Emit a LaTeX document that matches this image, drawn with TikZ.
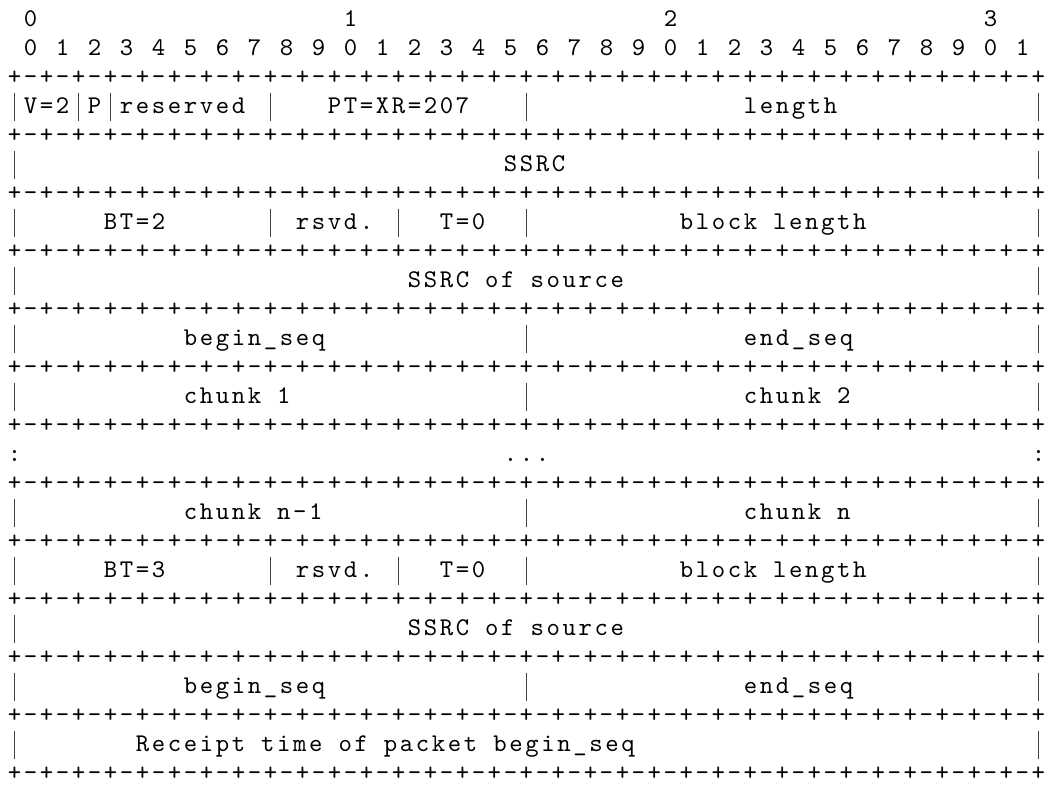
\documentclass[tikz,border=0pt]{standalone}
\usepackage{fontspec}
\newfontfamily\asciimono{lmmono10-regular.otf}[LetterSpace=10.24]
\definecolor{ink}{HTML}{000000}
\definecolor{barc}{HTML}{404040}
\newcommand\Xc[1]{14.5+16*(#1)}
\newcommand\Xl[1]{7.81+16*(#1)}
\newcommand\Yr[1]{19.5+29*(#1)}
\newcommand\Yb[1]{26.5+29*(#1)}
\newcommand\asciifont{\fontsize{25.5}{25.5}\asciimono}
% one empty character cell
\newcommand\s{\kern16pt\relax}
\def\sepA{+-+-+-+-+-+-+-+-}
\def\sepstr{\sepA\sepA\sepA\sepA+}
\newcommand\lbl[4]{\node[ascii] (#1) at ({\Xl{#3}},{\Yb{#2}}) {#4};}
\newcommand\vbars[2]{\foreach \cc in {#2} {\draw[bar] ({\Xc{\cc}},{\Yr{#1}-14}) -- ({\Xc{\cc}},{\Yr{#1}+14});}}
\newcommand\seprow[1]{\node[ascii] (sep#1) at ({\Xl{0}},{\Yb{#1}}) {\sepstr};}
\begin{document}
\begin{tikzpicture}[x=1pt,y=-1pt,
  ascii/.style={anchor=base west, inner sep=0pt, outer sep=0pt, text=ink, font=\asciifont},
  bar/.style={draw=barc, line width=1.4pt}]
\useasboundingbox (0,0) rectangle (1050,787);
% bit ruler
\lbl{ra}{0}{1}{0}
\lbl{rb}{0}{21}{1}
\lbl{rc}{0}{41}{2}
\lbl{rd}{0}{61}{3}
\foreach \i in {0,...,31} {\pgfmathtruncatemacro\dg{mod(\i,10)}\lbl{bit\i}{1}{1+2*\i}{\dg}}
\foreach \r in {2,4,...,26} {\seprow{\r}}
% header
\vbars{3}{0,4,6,16,32,64}
\lbl{ver}{3}{1}{V=2}
\lbl{pad}{3}{5}{P}
\lbl{res}{3}{7}{reserved}
\lbl{pt}{3}{20}{PT=XR=207}
\lbl{len}{3}{46}{length}
\vbars{5}{0,64}
\lbl{ssrc}{5}{31}{SSRC}
% block BT=2
\vbars{7}{0,16,24,32,64}
\lbl{btA}{7}{6}{BT=2}
\lbl{rsA}{7}{18}{rsvd.}
\lbl{tA}{7}{27}{T=0}
\lbl{blA}{7}{42}{block\s length}
\vbars{9}{0,64}
\lbl{srcA}{9}{25}{SSRC\s of\s source}
\vbars{11}{0,32,64}
\lbl{bsA}{11}{11}{begin\_seq}
\lbl{esA}{11}{46}{end\_seq}
\vbars{13}{0,32,64}
\lbl{ch1}{13}{11}{chunk\s 1}
\lbl{ch2}{13}{46}{chunk\s 2}
\lbl{colL}{15}{0}{:}
\lbl{dots}{15}{31}{...}
\lbl{colR}{15}{64}{:}
\vbars{17}{0,32,64}
\lbl{chn1}{17}{11}{chunk\s n-1}
\lbl{chn}{17}{46}{chunk\s n}
% block BT=3
\vbars{19}{0,16,24,32,64}
\lbl{btB}{19}{6}{BT=3}
\lbl{rsB}{19}{18}{rsvd.}
\lbl{tB}{19}{27}{T=0}
\lbl{blB}{19}{42}{block\s length}
\vbars{21}{0,64}
\lbl{srcB}{21}{25}{SSRC\s of\s source}
\vbars{23}{0,32,64}
\lbl{bsB}{23}{11}{begin\_seq}
\lbl{esB}{23}{46}{end\_seq}
\vbars{25}{0,64}
\lbl{rt}{25}{8}{Receipt\s time\s of\s packet\s begin\_seq}
\end{tikzpicture}
\end{document}
